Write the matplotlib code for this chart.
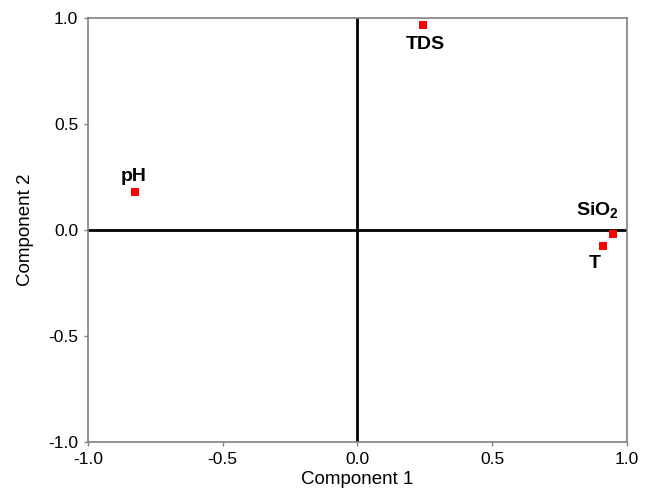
import matplotlib
matplotlib.use("Agg")
import matplotlib.pyplot as plt

# Component loadings
variables = ["pH", "TDS", "SiO$_2$", "T"]
comp1 = [-0.826, 0.243, 0.948, 0.911]
comp2 = [0.180, 0.965, -0.017, -0.078]
label_offsets = [(-1, 11), (2, -14), (-11, 17), (-6, -12)]

plt.rcParams["font.family"] = ["Liberation Sans", "DejaVu Sans"]
plt.rcParams["mathtext.fontset"] = "custom"
plt.rcParams["mathtext.rm"] = "Liberation Sans:bold"
plt.rcParams["mathtext.default"] = "rm"

fig = plt.figure(figsize=(6.47, 5.01), dpi=100)
ax = fig.add_axes([0.136, 0.118, 0.833, 0.846])

ax.axhline(0, color="black", lw=2.0, zorder=1)
ax.axvline(0, color="black", lw=2.0, zorder=1)

ax.scatter(comp1, comp2, marker="s", s=40, color="#ff0000", zorder=3, linewidths=0)

for name, x, y, (dx, dy) in zip(variables, comp1, comp2, label_offsets):
    ax.annotate(name, (x, y), xytext=(dx, dy), textcoords="offset points",
                ha="center", va="center", fontsize=14, fontweight="bold")

ax.set_xlim(-1, 1)
ax.set_ylim(-1, 1)
ticks = [-1.0, -0.5, 0.0, 0.5, 1.0]
ax.set_xticks(ticks)
ax.set_yticks(ticks)
ax.set_xticklabels([f"{t:.1f}" for t in ticks])
ax.set_yticklabels([f"{t:.1f}" for t in ticks])
ax.tick_params(labelsize=12.5, length=3, color="#808080", width=1, pad=4)
for s in ax.spines.values():
    s.set_color("#808080")
    s.set_linewidth(1.2)

ax.set_xlabel("Component 1", fontsize=13.5, labelpad=3)
ax.set_ylabel("Component 2", fontsize=13.5, labelpad=10)

fig.savefig("out.png", dpi=100)
